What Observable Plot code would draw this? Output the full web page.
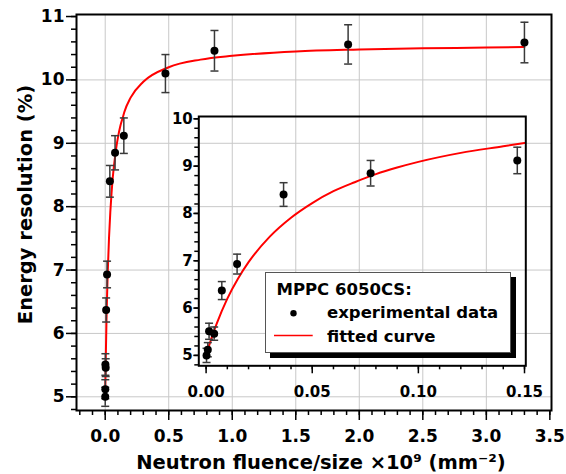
<!DOCTYPE html>
<html><head><meta charset="utf-8">
<script src="https://cdn.jsdelivr.net/npm/d3@7"></script>
<script src="https://cdn.jsdelivr.net/npm/@observablehq/plot@0.6"></script>
<style>
body{margin:0;background:#fff;}
#wrap{position:relative;width:566px;height:474px;overflow:hidden;font-family:"DejaVu Sans",sans-serif;}
#wrap svg{position:absolute;}
</style></head><body><div id="wrap"></div>
<script>
const fluence    = [0.0002, 0.0008, 0.0014, 0.0038, 0.0074, 0.0146, 0.0365, 0.0775, 0.1466, 0.474, 0.86, 1.912, 3.30];
const resolution = [5.00, 5.12, 5.51, 5.46, 6.37, 6.93, 8.40, 8.85, 9.12, 10.10, 10.46, 10.56, 10.59];
const resError   = [0.15, 0.15, 0.17, 0.14, 0.19, 0.21, 0.25, 0.27, 0.28, 0.30, 0.32, 0.31, 0.32];
// fitted curve, points
const fitFluence    = [0, 0.002, 0.005, 0.01, 0.015, 0.02, 0.03, 0.04, 0.05, 0.06, 0.07, 0.08, 0.09, 0.10, 0.12, 0.14, 0.15, 0.2, 0.3, 0.5, 0.75, 1.0, 1.5, 2.0, 2.5, 3.0, 3.3];
const fitResolution = [5.00, 5.29, 5.67, 6.20, 6.62, 6.97, 7.51, 7.91, 8.22, 8.47, 8.66, 8.83, 8.97, 9.09, 9.28, 9.42, 9.49, 9.72, 9.97, 10.20, 10.32, 10.38, 10.45, 10.48, 10.50, 10.51, 10.52];
// tick labels
const mainXTicks  = [0, 0.5, 1.0, 1.5, 2.0, 2.5, 3.0, 3.5];
const mainYTicks  = [5, 6, 7, 8, 9, 10, 11];
const insetXTicks = [0, 0.05, 0.10, 0.15];
const insetYTicks = [5, 6, 7, 8, 9, 10];
const xTitle = "Neutron fluence/size \u00d710\u2079 (mm\u207b\u00b2)";
const yTitle = "Energy resolution (%)";
const legendTitle = "MPPC 6050CS:";
const legendItems = ["experimental data", "fitted curve"];

const pts = fluence.map((x, i) => ({x, y: resolution[i], lo: resolution[i] - resError[i], hi: resolution[i] + resError[i]}));
const fit = fitFluence.map((x, i) => ({x, y: fitResolution[i]}));

const cap = {draw(ctx) { ctx.moveTo(-4, 0); ctx.lineTo(4, 0); }};
const font = "DejaVu Sans";
const errStroke = "#3a3a3a";

function dataMarks(P, D) {
  return [
    Plot.line(D, {x: "x", y: "y", stroke: "#ff0000", strokeWidth: 2, curve: "monotone-x", clip: true}),
    Plot.ruleX(P, {x: "x", y1: "lo", y2: "hi", stroke: errStroke, strokeWidth: 1.5}),
    Plot.dot(P, {x: "x", y: "lo", symbol: cap, fill: "none", stroke: errStroke, strokeWidth: 1.5}),
    Plot.dot(P, {x: "x", y: "hi", symbol: cap, fill: "none", stroke: errStroke, strokeWidth: 1.5}),
    Plot.dot(P, {x: "x", y: "y", r: 4, fill: "black", stroke: "none"})
  ];
}

const blank = () => "";
const main = Plot.plot({
  width: 566, height: 474,
  marginLeft: 76, marginRight: 15, marginTop: 14, marginBottom: 64,
  style: {fontFamily: font, fontWeight: "bold", fontSize: "17px", color: "#000", background: "transparent"},
  x: {domain: [-0.226, 3.513], label: null},
  y: {domain: [4.784, 11.032], label: null},
  marks: [
    Plot.gridX(mainXTicks.filter(d => d < 3.5), {stroke: "#c8c8c8", strokeOpacity: 1, strokeWidth: 1}),
    Plot.gridY(mainYTicks.filter(d => d < 11), {stroke: "#c8c8c8", strokeOpacity: 1, strokeWidth: 1}),
    Plot.axisX(d3.range(-0.2, 3.51, 0.1), {tickSize: 5, tickFormat: blank, label: null, strokeWidth: 1.5}),
    Plot.axisX(mainXTicks, {tickSize: 10, tickPadding: 9, tickFormat: d3.format(".1f"), label: null, strokeWidth: 1.5}),
    Plot.axisY(d3.range(4.8, 11.01, 0.2), {tickSize: 5, tickFormat: blank, label: null, strokeWidth: 1.5}),
    Plot.axisY(mainYTicks, {tickSize: 10, tickPadding: 2, tickFormat: d => String(d), label: null, strokeWidth: 1.5}),
    ...dataMarks(pts, fit),
    Plot.frame({stroke: "black", strokeWidth: 2}),
    Plot.text([xTitle], {frameAnchor: "bottom", textAnchor: "middle", lineAnchor: "middle", dx: 7, dy: 52, fontSize: 19.5, fontWeight: "bold", fill: "#000"}),
    Plot.text([yTitle], {frameAnchor: "left", textAnchor: "middle", lineAnchor: "middle", rotate: -90, dx: -50.5, dy: -8, fontSize: 19.5, fontWeight: "bold", fill: "#000"})
  ]
});
main.style.left = "0px"; main.style.top = "0px";

const insetPts = pts.filter(d => d.x <= 0.15);
const insetFit = fit.filter(d => d.x <= 0.15);
const inset = Plot.plot({
  width: 400, height: 310,
  marginLeft: 48.3, marginRight: 24.7, marginTop: 16, marginBottom: 44.7,
  style: {fontFamily: font, fontWeight: "bold", fontSize: "15px", color: "#000", background: "transparent", overflow: "visible"},
  x: {domain: [-0.00344, 0.15061], label: null},
  y: {domain: [4.78, 10.049], label: null},
  marks: [
    Plot.axisX(d3.range(0, 0.1501, 0.01), {tickSize: 4, tickFormat: blank, label: null, strokeWidth: 1.5}),
    Plot.axisX(insetXTicks, {tickSize: 8, tickPadding: 12.5, tickFormat: d3.format(".2f"), label: null, strokeWidth: 1.5}),
    Plot.axisY(d3.range(4.8, 10.01, 0.2), {tickSize: 4, tickFormat: blank, label: null, strokeWidth: 1.5}),
    Plot.axisY(insetYTicks, {tickSize: 5, tickPadding: 1, tickFormat: d => String(d), label: null, strokeWidth: 1.5}),
    ...dataMarks(insetPts, insetFit),
    Plot.frame({stroke: "black", strokeWidth: 2})
  ]
});
inset.style.left = "150px"; inset.style.top = "100px";

const wrap = document.getElementById("wrap");
wrap.appendChild(main);
wrap.appendChild(inset);

// legend
const leg = d3.create("svg").attr("width", 566).attr("height", 474)
  .style("left", "0px").style("top", "0px")
  .attr("font-family", font).attr("font-weight", "bold").attr("font-size", 16.5);
leg.append("rect").attr("x", 270).attr("y", 277).attr("width", 246).attr("height", 81).attr("fill", "#000");
leg.append("rect").attr("x", 265.5).attr("y", 272.5).attr("width", 245).attr("height", 80).attr("fill", "#fff").attr("stroke", "#555").attr("stroke-width", 1);
leg.append("text").attr("x", 276.5).attr("y", 294.5).text(legendTitle);
leg.append("text").attr("x", 327).attr("y", 318).text(legendItems[0]);
leg.append("text").attr("x", 327).attr("y", 341.5).text(legendItems[1]);
leg.append("circle").attr("cx", 293.5).attr("cy", 313.3).attr("r", 3.2).attr("fill", "#000");
leg.append("line").attr("x1", 274).attr("x2", 312.7).attr("y1", 335.5).attr("y2", 335.5).attr("stroke", "#ff0000").attr("stroke-width", 1.5);
wrap.appendChild(leg.node());
</script></body></html>
